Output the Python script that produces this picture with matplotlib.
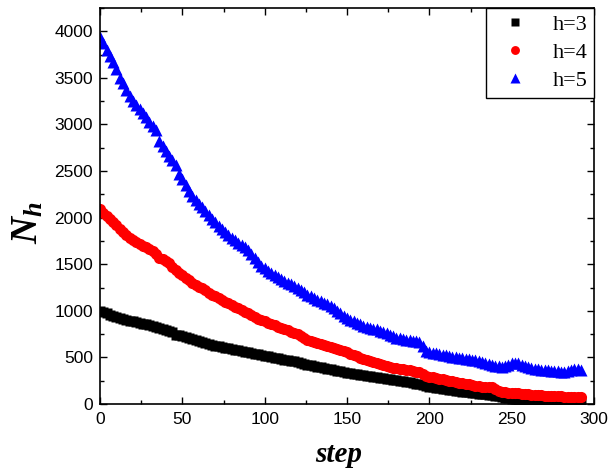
# Curvas N_h frente a step para h=3, 4, 5 (puntos densos, estilo Origin)

import numpy as np
import matplotlib.pyplot as plt
from matplotlib.ticker import MultipleLocator

# Valores, uno cada 2 pasos (0, 2, 4, ... 292)
n_h3 = [1000, 990, 975, 960, 945, 935, 925, 915, 905, 895,
        887, 879, 870, 862, 854, 845, 835, 825, 815, 805,
        795, 785, 770, 745, 735, 726, 717, 708, 700, 690,
        680, 668, 656, 645, 635, 627, 620, 612, 604, 597,
        589, 582, 575, 568, 561, 553, 546, 539, 532, 525,
        518, 512, 504, 497, 490, 483, 476, 470, 463, 457,
        450, 440, 431, 422, 415, 407, 400, 392, 385, 378,
        371, 364, 356, 349, 341, 335, 330, 324, 318, 313,
        307, 302, 296, 290, 285, 280, 275, 270, 265, 260,
        256, 249, 243, 237, 231, 225, 218, 210, 200, 192,
        186, 180, 174, 168, 162, 157, 152, 147, 142, 137,
        132, 128, 124, 120, 116, 112, 107, 103, 98, 93,
        88, 81, 75, 68, 61, 55, 52, 48, 45, 42,
        40, 38, 36, 33, 30, 28, 26, 24, 23, 22,
        21, 20, 19, 18, 17, 16, 15]

n_h4 = [2090, 2055, 2020, 1990, 1955, 1920, 1880, 1845, 1810, 1780,
        1755, 1735, 1715, 1698, 1680, 1660, 1640, 1610, 1570, 1553,
        1535, 1510, 1475, 1440, 1410, 1383, 1357, 1330, 1303, 1278,
        1260, 1240, 1218, 1195, 1175, 1155, 1135, 1115, 1095, 1080,
        1063, 1045, 1025, 1008, 990, 975, 955, 935, 915, 901,
        887, 870, 857, 843, 830, 813, 800, 790, 777, 763,
        750, 730, 710, 690, 675, 662, 650, 640, 630, 620,
        610, 598, 585, 575, 565, 555, 538, 523, 510, 497,
        485, 475, 462, 450, 440, 430, 420, 410, 400, 390,
        382, 377, 373, 368, 362, 355, 348, 338, 320, 300,
        293, 287, 280, 272, 264, 257, 251, 245, 238, 230,
        222, 218, 212, 205, 198, 192, 187, 185, 182, 178,
        160, 135, 128, 125, 122, 120, 117, 114, 110, 107,
        104, 101, 98, 95, 91, 88, 86, 85, 84, 83,
        81, 80, 78, 76, 74, 72, 70]

n_h5 = [3940, 3870, 3800, 3740, 3670, 3590, 3500, 3440, 3375, 3310,
        3255, 3210, 3170, 3125, 3080, 3030, 2985, 2940, 2820, 2765,
        2715, 2660, 2615, 2570, 2470, 2410, 2350, 2290, 2230, 2185,
        2150, 2115, 2075, 2030, 1990, 1950, 1910, 1875, 1845, 1810,
        1780, 1755, 1730, 1705, 1680, 1650, 1610, 1565, 1520, 1485,
        1455, 1430, 1405, 1385, 1365, 1340, 1320, 1300, 1287, 1270,
        1240, 1220, 1198, 1175, 1158, 1140, 1120, 1103, 1085, 1068,
        1050, 1025, 1000, 975, 945, 920, 903, 887, 870, 855,
        842, 830, 820, 810, 800, 787, 773, 760, 743, 727,
        710, 703, 697, 690, 683, 677, 672, 668, 620, 570,
        560, 552, 545, 537, 530, 525, 517, 508, 500, 494,
        490, 486, 481, 475, 470, 460, 450, 440, 430, 420,
        410, 403, 400, 405, 422, 435, 440, 435, 422, 410,
        395, 385, 380, 375, 370, 365, 362, 358, 355, 352,
        348, 345, 350, 365, 380, 375, 365]

etiquetas = ['h=3', 'h=4', 'h=5']

plt.rcParams['font.family'] = 'Liberation Sans'
plt.rcParams['mathtext.fontset'] = 'custom'
plt.rcParams['mathtext.it'] = 'Liberation Serif:bold:italic'
plt.rcParams['mathtext.rm'] = 'Liberation Serif:bold'

fig = plt.figure(figsize=(6.09, 4.71), dpi=100)
ax = fig.add_axes([0.1642, 0.1423, 0.8112, 0.8407])

ax.plot(np.arange(len(n_h3)) * 2, n_h3, 's', color='black', ms=7,
        mec='none', label=etiquetas[0])
ax.plot(np.arange(len(n_h4)) * 2, n_h4, 'o', color='red', ms=8,
        mec='none', label=etiquetas[1])
ax.plot(np.arange(len(n_h5)) * 2, n_h5, '^', color='blue', ms=8.5,
        mec='none', label=etiquetas[2])

ax.set_xlim(0, 300)
ax.set_ylim(0, 4250)
ax.xaxis.set_major_locator(MultipleLocator(50))
ax.xaxis.set_minor_locator(MultipleLocator(25))
ax.yaxis.set_major_locator(MultipleLocator(500))
ax.yaxis.set_minor_locator(MultipleLocator(250))
ax.tick_params(which='both', direction='in', top=True, right=True,
               labelsize=12.5, width=1)
ax.tick_params(axis='y', pad=5)
ax.tick_params(axis='x', pad=6)
ax.tick_params(which='major', length=5)
ax.tick_params(which='minor', length=3)
for s in ax.spines.values():
    s.set_linewidth(1.2)

# Etiquetas de los ejes colocadas a mano
fig.text(339 / 609, 1 - 455 / 471, 'step', family='Liberation Serif',
         fontweight='bold', fontstyle='italic', fontsize=21,
         ha='center', va='center')
fig.text(28 / 609, 1 - 223 / 471, r'$N_h$', fontsize=27, rotation=90,
         ha='center', va='center')

leg = ax.legend(loc='upper right', bbox_to_anchor=(1, 1), borderaxespad=0,
                fancybox=False, edgecolor='black', framealpha=1,
                prop={'family': 'Liberation Serif', 'size': 16},
                handletextpad=0.7, labelspacing=0.33, borderpad=0.3,
                handlelength=2.0, markerscale=0.8)
leg.get_frame().set_linewidth(1.0)

plt.savefig('out.png', dpi=100)
